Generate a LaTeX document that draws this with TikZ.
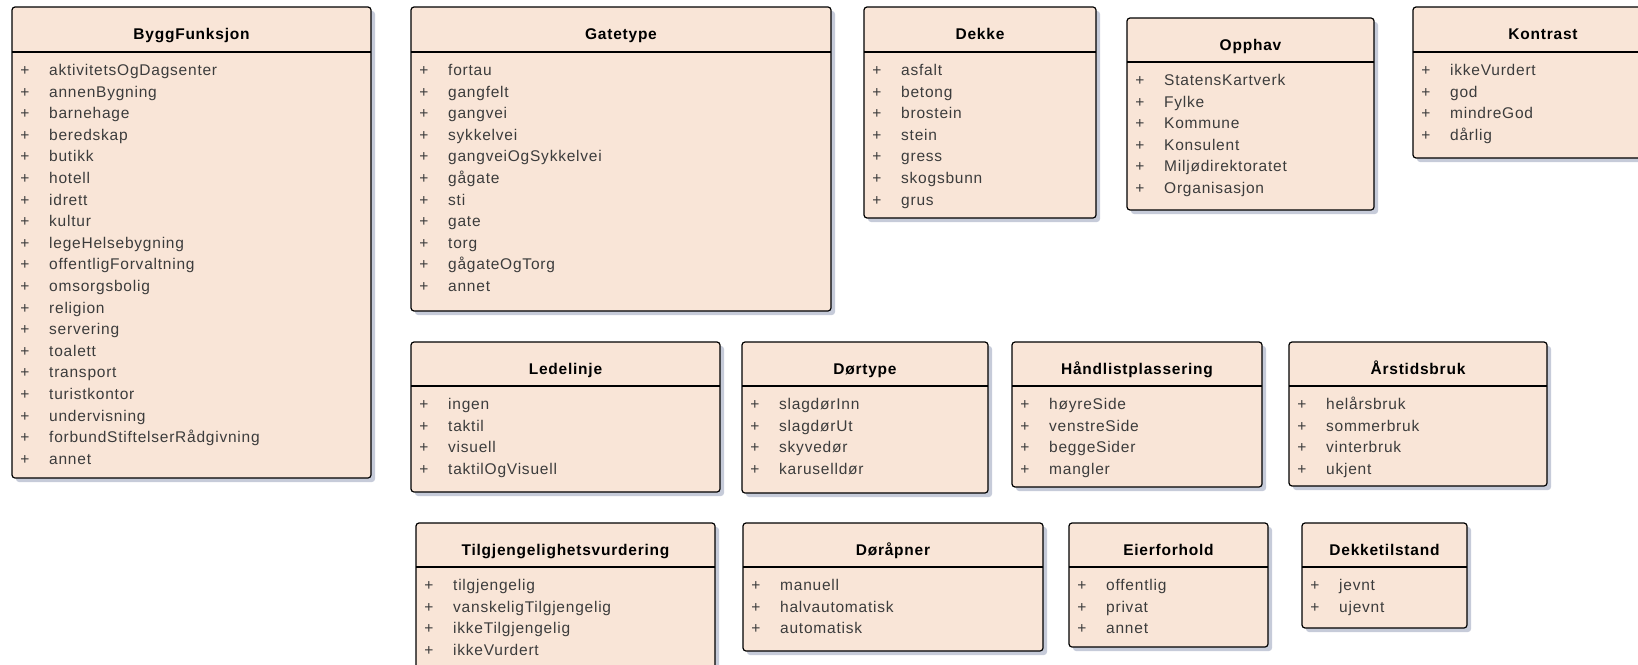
\documentclass[tikz,border=0pt]{standalone}
\usepackage{fontspec}
\setmainfont{Liberation Sans}[LetterSpace=5]
\definecolor{boxfill}{RGB}{249,229,215}
\definecolor{shadowc}{RGB}{184,190,208}
\definecolor{itemc}{RGB}{60,60,60}
\tikzset{
  ebox/.style={draw=black, line width=1.2pt, fill=boxfill, rounded corners=3pt, inner sep=0pt, outer sep=0pt},
  eshadow/.style={fill=shadowc, rounded corners=3pt, opacity=0.8},
  hline/.style={draw=black, line width=1.2pt},
  etitle/.style={font=\fontsize{15.5}{18}\selectfont\bfseries, text=black, inner sep=0pt},
  eitem/.style={font=\fontsize{15.5}{18}\selectfont, text=itemc, inner sep=0pt}
}
\newcommand\enumbox[8]{%
  \fill[eshadow] (#2+4,#3+4) rectangle ++(#4,#5);
  \node[ebox, minimum width=#4pt, minimum height=#5pt, anchor=north west] (#1) at (#2,#3) {};
  \draw[hline] (#2,#3+#6) -- (#2+#4,#3+#6);
  \node[etitle, anchor=base] (#1-t) at (#2+#4/2,#3+32) {#7};
  \foreach \t [count=\i] in {#8} {%
    \node[eitem, anchor=base] (#1-p\i) at (#2+13,#3+#6+23.5+\i*21.6-21.6) {+};
    \node[eitem, anchor=base west] (#1-\i) at (#2+37,#3+#6+23.5+\i*21.6-21.6) {\t};
  }%
}
\begin{document}
\begin{tikzpicture}[x=1pt,y=-1pt]
\useasboundingbox (0,0) rectangle (1638,664);
\clip (0,0) rectangle (1638,664);
\enumbox{bygg}{12}{7}{359}{471}{45}{ByggFunksjon}{aktivitetsOgDagsenter,annenBygning,barnehage,beredskap,butikk,hotell,idrett,kultur,legeHelsebygning,offentligForvaltning,omsorgsbolig,religion,servering,toalett,transport,turistkontor,undervisning,forbundStiftelserRådgivning,annet}
\enumbox{gate}{411}{7}{420}{304}{45}{Gatetype}{fortau,gangfelt,gangvei,sykkelvei,gangveiOgSykkelvei,gågate,sti,gate,torg,gågateOgTorg,annet}
\enumbox{dekke}{864}{7}{232}{211}{45}{Dekke}{asfalt,betong,brostein,stein,gress,skogsbunn,grus}
\enumbox{opphav}{1127}{18}{247}{192}{44}{Opphav}{StatensKartverk,Fylke,Kommune,Konsulent,Miljødirektoratet,Organisasjon}
\enumbox{kontrast}{1413}{7}{260}{151}{45}{Kontrast}{ikkeVurdert,god,mindreGod,dårlig}
\enumbox{ledelinje}{411}{342}{309}{150}{44}{Ledelinje}{ingen,taktil,visuell,taktilOgVisuell}
\enumbox{dortype}{742}{342}{246}{151}{44}{Dørtype}{slagdørInn,slagdørUt,skyvedør,karuselldør}
\enumbox{handlist}{1012}{342}{250}{145}{44}{Håndlistplassering}{høyreSide,venstreSide,beggeSider,mangler}
\enumbox{arstid}{1289}{342}{258}{144}{44}{Årstidsbruk}{helårsbruk,sommerbruk,vinterbruk,ukjent}
\enumbox{tilgj}{416}{523}{299}{150}{44}{Tilgjengelighetsvurdering}{tilgjengelig,vanskeligTilgjengelig,ikkeTilgjengelig,ikkeVurdert}
\enumbox{doraapner}{743}{523}{300}{128}{44}{Døråpner}{manuell,halvautomatisk,automatisk}
\enumbox{eier}{1069}{523}{199}{124}{44}{Eierforhold}{offentlig,privat,annet}
\enumbox{dekketil}{1302}{523}{165}{105}{44}{Dekketilstand}{jevnt,ujevnt}
\end{tikzpicture}
\end{document}
